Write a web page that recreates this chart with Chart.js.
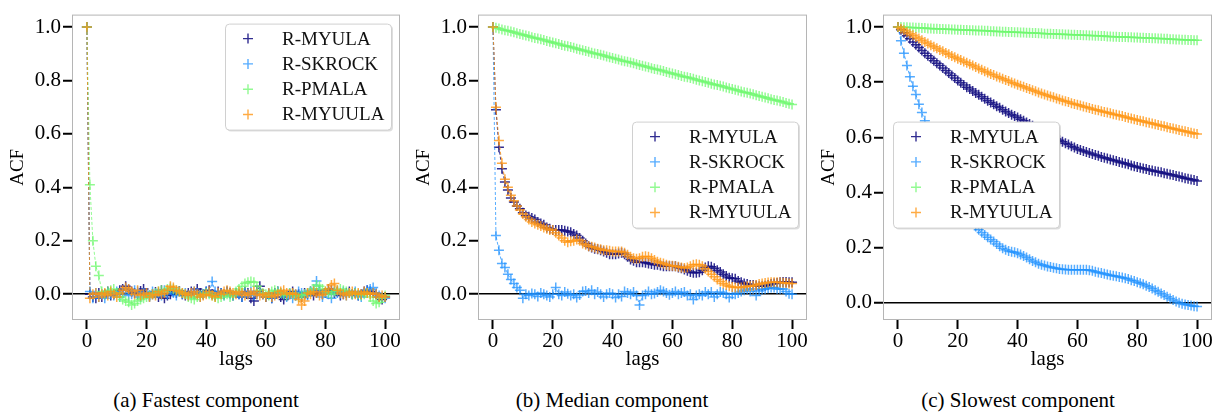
<!DOCTYPE html>
<html>
<head>
<meta charset="utf-8">
<title>ACF</title>
<script src="https://cdn.jsdelivr.net/npm/chart.js@4"></script>
<style>
  body { margin: 0; background: #fff; }
  #page { position: relative; width: 1226px; height: 417px; overflow: hidden; font-family: 'Liberation Serif', serif; color: #000; }
  .panel { position: absolute; top: 0; height: 370px; }
  .caption { position: absolute; top: 387px; font-size: 21px; line-height: 26px; transform: translateX(-50%); white-space: nowrap; }
</style>
</head>
<body>
<div id="page">
  <div class="panel" style="left:0px;width:410px"><canvas id="fastChart"></canvas></div>
  <div class="panel" style="left:406px;width:411px"><canvas id="medianChart"></canvas></div>
  <div class="panel" style="left:811px;width:411px"><canvas id="slowChart"></canvas></div>
  <div class="caption" style="left:206px">(a) Fastest component</div>
  <div class="caption" style="left:612px">(b) Median component</div>
  <div class="caption" style="left:1018px">(c) Slowest component</div>
</div>
<script>
// =====================
// Data
// =====================

const seriesNames = ['R-MYULA', 'R-SKROCK', 'R-PMALA', 'R-MYUULA'];
const seriesColors = ['rgba(20,16,130,0.88)', 'rgba(30,144,255,0.75)', 'rgba(110,248,110,0.75)', 'rgba(255,150,20,0.8)'];
const xTicks = [0, 20, 40, 60, 80, 100];
const yTicks = [0.0, 0.2, 0.4, 0.6, 0.8, 1.0];

// (a) fastest component
const fastMyula = [1.0, 0.0, -0.01, -0.015, 0.005, -0.01, 0.0, 0.01, -0.005, 0.0,
  0.005, 0.015, 0.02, 0.03, 0.018, 0.01, 0.005, 0.0, 0.012, 0.02,
  0.005, -0.005, 0.0, 0.008, -0.01, 0.015, -0.015, -0.005, 0.0, 0.01,
  0.005, 0.012, 0.0, -0.005, 0.005, 0.01, 0.0, 0.02, 0.005, 0.0,
  0.01, 0.015, 0.0, -0.005, 0.01, 0.005, 0.0, 0.01, 0.005, -0.005,
  0.005, 0.0, -0.01, 0.01, 0.005, -0.015, -0.025, 0.01, 0.03, 0.0,
  -0.01, 0.0, -0.015, 0.005, 0.01, -0.01, -0.02, -0.005, 0.0, 0.01,
  -0.005, 0.0, -0.01, 0.005, 0.0, 0.01, -0.005, 0.005, 0.015, 0.0,
  0.005, 0.02, 0.015, 0.005, 0.01, -0.005, 0.0, 0.005, 0.01, 0.0,
  0.005, -0.005, 0.0, 0.01, 0.015, 0.01, 0.005, 0.0, -0.01, -0.02,
  -0.01];
const fastSkrock = [1.0, 0.01, -0.015, 0.005, -0.01, 0.0, -0.015, 0.005, 0.0, -0.005,
  0.01, -0.01, 0.005, 0.02, -0.005, 0.0, 0.015, 0.01, -0.01, 0.005,
  0.0, -0.01, 0.01, 0.0, 0.005, -0.005, 0.015, 0.0, 0.02, 0.005,
  -0.005, 0.01, 0.0, 0.005, -0.005, 0.0, 0.01, 0.005, -0.01, 0.0,
  0.01, 0.005, 0.048, 0.01, 0.0, 0.005, -0.005, 0.01, 0.0, -0.005,
  0.005, 0.0, -0.01, 0.005, 0.0, 0.01, -0.005, 0.0, 0.005, 0.0,
  -0.01, 0.005, -0.015, 0.0, 0.01, 0.005, 0.0, -0.01, 0.005, -0.015,
  0.0, 0.01, 0.005, 0.0, -0.005, 0.01, 0.02, 0.05, 0.015, -0.01,
  0.005, 0.0, -0.015, 0.01, 0.005, 0.0, 0.01, -0.005, 0.005, 0.0,
  0.01, -0.005, -0.01, 0.005, 0.015, 0.02, 0.025, 0.005, -0.005, -0.01,
  -0.015];
const fastPmala = [1.0, 0.41, 0.20, 0.105, 0.07, 0.01, 0.0, 0.01, 0.015, 0.02,
  0.005, -0.01, -0.02, -0.025, -0.03, -0.04, -0.035, -0.025, -0.02, -0.015,
  -0.01, -0.005, 0.0, 0.005, 0.01, 0.015, 0.01, 0.02, 0.025, 0.02,
  0.015, 0.01, 0.005, 0.0, -0.01, -0.015, -0.02, -0.01, -0.005, 0.0,
  0.005, 0.0, -0.005, -0.01, -0.015, -0.01, -0.005, 0.0, -0.01, -0.005,
  0.01, 0.02, 0.03, 0.04, 0.045, 0.048, 0.045, 0.03, 0.015, 0.005,
  0.0, -0.005, 0.01, 0.015, 0.01, 0.005, 0.0, -0.005, 0.005, 0.0,
  -0.005, -0.01, -0.005, 0.0, 0.005, 0.01, 0.02, 0.035, 0.03, 0.02,
  0.01, 0.005, 0.0, 0.01, 0.015, 0.02, 0.015, 0.01, 0.005, 0.0,
  0.005, 0.0, -0.005, 0.0, 0.005, -0.01, -0.025, -0.035, -0.03, -0.015,
  -0.005];
const fastMyuula = [1.0, -0.015, 0.0, 0.005, -0.01, 0.0, 0.005, -0.005, 0.01, 0.0,
  -0.01, 0.005, 0.015, 0.025, 0.02, 0.01, 0.0, 0.015, -0.005, 0.0,
  0.005, -0.01, 0.0, -0.005, 0.01, 0.0, 0.005, 0.015, 0.03, 0.025,
  0.015, 0.01, 0.005, 0.0, -0.005, 0.005, 0.01, 0.0, -0.01, -0.005,
  0.0, 0.01, -0.005, -0.01, 0.005, 0.0, 0.01, 0.015, 0.01, 0.005,
  0.0, 0.01, 0.005, -0.005, 0.0, 0.005, 0.01, 0.0, -0.005, 0.0,
  -0.01, 0.005, -0.01, -0.005, 0.0, 0.01, 0.015, 0.005, 0.0, 0.005,
  0.0, -0.02, -0.04, -0.025, 0.005, 0.0, 0.01, 0.005, -0.005, 0.0,
  0.01, 0.02, 0.035, 0.04, 0.015, 0.005, 0.0, -0.005, 0.005, 0.01,
  0.0, 0.005, 0.0, 0.01, 0.005, 0.0, 0.005, 0.0, -0.01, -0.005,
  -0.01];

// (b) median component
const medianMyula = [1.0, 0.69, 0.55, 0.47, 0.42, 0.39, 0.36, 0.345, 0.33, 0.32,
  0.305, 0.295, 0.29, 0.285, 0.28, 0.27, 0.265, 0.26, 0.25, 0.245,
  0.24, 0.24, 0.24, 0.24, 0.238, 0.235, 0.232, 0.225, 0.22, 0.21,
  0.2, 0.19, 0.18, 0.175, 0.17, 0.168, 0.165, 0.16, 0.155, 0.15,
  0.15, 0.15, 0.152, 0.155, 0.15, 0.14, 0.13, 0.125, 0.12, 0.12,
  0.12, 0.118, 0.115, 0.113, 0.11, 0.11, 0.108, 0.105, 0.105, 0.105,
  0.105, 0.105, 0.1, 0.097, 0.093, 0.088, 0.083, 0.08, 0.08, 0.082,
  0.09, 0.1, 0.105, 0.103, 0.097, 0.09, 0.083, 0.075, 0.068, 0.062,
  0.06, 0.058, 0.05, 0.045, 0.04, 0.038, 0.035, 0.035, 0.033, 0.03,
  0.03, 0.032, 0.035, 0.038, 0.04, 0.042, 0.045, 0.046, 0.046, 0.045,
  0.045];
const medianSkrock = [1.0, 0.22, 0.165, 0.115, 0.10, 0.075, 0.055, 0.04, 0.025, 0.015,
  -0.015, 0.0, -0.005, 0.003, 0.0, -0.008, 0.005, 0.0, -0.005, -0.01,
  0.0, 0.025, 0.0, -0.005, 0.008, 0.002, -0.005, 0.0, -0.012, -0.003,
  0.01, 0.012, 0.005, 0.015, 0.0, 0.008, 0.0, -0.01, 0.0, 0.005,
  0.0, -0.012, 0.0, -0.008, 0.01, 0.005, 0.0, 0.008, -0.005, -0.04,
  -0.005, 0.0, 0.01, 0.0, 0.003, 0.008, 0.015, 0.01, 0.005, -0.002,
  0.005, 0.01, 0.0, 0.005, 0.008, -0.005, 0.0, -0.02, -0.005, 0.0,
  -0.005, 0.008, 0.0, 0.008, -0.01, 0.0, 0.008, 0.005, 0.0, -0.012,
  0.0, 0.0, 0.005, 0.01, 0.015, 0.02, 0.01, 0.02, -0.005, 0.012,
  0.018, 0.02, 0.022, 0.025, 0.025, 0.02, 0.02, 0.02, 0.01, 0.002,
  0.0];
const medianPmala = [1.0, 0.997, 0.994, 0.991, 0.988, 0.986, 0.983, 0.98, 0.977, 0.974,
  0.971, 0.968, 0.965, 0.962, 0.959, 0.957, 0.954, 0.951, 0.948, 0.945,
  0.942, 0.939, 0.936, 0.933, 0.93, 0.928, 0.925, 0.922, 0.919, 0.916,
  0.913, 0.91, 0.907, 0.904, 0.901, 0.899, 0.896, 0.893, 0.89, 0.887,
  0.884, 0.881, 0.878, 0.875, 0.872, 0.87, 0.867, 0.864, 0.861, 0.858,
  0.855, 0.852, 0.849, 0.846, 0.843, 0.841, 0.838, 0.835, 0.832, 0.829,
  0.826, 0.823, 0.82, 0.817, 0.814, 0.812, 0.809, 0.806, 0.803, 0.8,
  0.797, 0.794, 0.791, 0.788, 0.785, 0.783, 0.78, 0.777, 0.774, 0.771,
  0.768, 0.765, 0.762, 0.759, 0.756, 0.754, 0.751, 0.748, 0.745, 0.742,
  0.739, 0.736, 0.733, 0.73, 0.727, 0.725, 0.722, 0.719, 0.716, 0.713,
  0.71];
const medianMyuula = [1.0, 0.70, 0.575, 0.49, 0.43, 0.40, 0.37, 0.35, 0.33, 0.315,
  0.30, 0.29, 0.28, 0.27, 0.265, 0.26, 0.255, 0.25, 0.245, 0.24,
  0.24, 0.23, 0.22, 0.21, 0.2, 0.195, 0.198, 0.2, 0.205, 0.2,
  0.19, 0.185, 0.18, 0.178, 0.175, 0.17, 0.168, 0.165, 0.165, 0.163,
  0.16, 0.16, 0.16, 0.16, 0.155, 0.148, 0.14, 0.135, 0.133, 0.135,
  0.14, 0.142, 0.14, 0.135, 0.128, 0.122, 0.118, 0.115, 0.11, 0.108,
  0.107, 0.105, 0.103, 0.1, 0.098, 0.1, 0.105, 0.11, 0.112, 0.11,
  0.105, 0.095, 0.085, 0.075, 0.065, 0.055, 0.048, 0.04, 0.035, 0.03,
  0.027, 0.025, 0.025, 0.025, 0.028, 0.03, 0.03, 0.032, 0.035, 0.038,
  0.04, 0.042, 0.044, 0.045, 0.045, 0.045, 0.044, 0.043, 0.042, 0.04,
  0.04];

// (c) slowest component
const slowMyula = [1.0, 0.99, 0.979, 0.968, 0.957, 0.946, 0.936, 0.926, 0.915, 0.905,
  0.896, 0.887, 0.878, 0.869, 0.86, 0.851, 0.842, 0.833, 0.824, 0.815,
  0.806, 0.798, 0.79, 0.782, 0.775, 0.768, 0.761, 0.754, 0.747, 0.74,
  0.733, 0.726, 0.72, 0.713, 0.707, 0.70, 0.694, 0.688, 0.682, 0.677,
  0.672, 0.666, 0.66, 0.654, 0.648, 0.642, 0.636, 0.63, 0.624, 0.618,
  0.612, 0.606, 0.6, 0.594, 0.589, 0.584, 0.579, 0.574, 0.568, 0.563,
  0.558, 0.554, 0.55, 0.547, 0.543, 0.54, 0.536, 0.533, 0.529, 0.526,
  0.523, 0.52, 0.517, 0.514, 0.511, 0.508, 0.505, 0.502, 0.498, 0.495,
  0.492, 0.49, 0.487, 0.485, 0.482, 0.48, 0.477, 0.475, 0.473, 0.47,
  0.468, 0.465, 0.463, 0.46, 0.458, 0.455, 0.452, 0.45, 0.447, 0.445,
  0.442];
const slowSkrock = [1.0, 0.95, 0.905, 0.86, 0.82, 0.785, 0.755, 0.72, 0.69, 0.66,
  0.63, 0.60, 0.572, 0.545, 0.518, 0.493, 0.468, 0.445, 0.422, 0.40,
  0.38, 0.36, 0.34, 0.322, 0.305, 0.29, 0.277, 0.265, 0.255, 0.246,
  0.238, 0.23, 0.222, 0.213, 0.205, 0.198, 0.192, 0.188, 0.185, 0.183,
  0.18, 0.175, 0.17, 0.164, 0.158, 0.152, 0.147, 0.142, 0.138, 0.135,
  0.132, 0.13, 0.127, 0.125, 0.123, 0.122, 0.121, 0.12, 0.12, 0.12,
  0.12, 0.12, 0.12, 0.12, 0.118, 0.116, 0.113, 0.11, 0.108, 0.105,
  0.103, 0.1, 0.098, 0.096, 0.094, 0.092, 0.089, 0.086, 0.082, 0.079,
  0.075, 0.071, 0.067, 0.062, 0.057, 0.052, 0.046, 0.04, 0.034, 0.028,
  0.022, 0.016, 0.01, 0.005, 0.0, -0.003, -0.006, -0.008, -0.01, -0.012,
  -0.013];
const slowPmala = [1.0, 1.0, 0.999, 0.999, 0.998, 0.998, 0.997, 0.997, 0.996, 0.996,
  0.995, 0.995, 0.994, 0.994, 0.993, 0.993, 0.992, 0.992, 0.991, 0.991,
  0.99, 0.99, 0.989, 0.989, 0.988, 0.988, 0.987, 0.987, 0.987, 0.986,
  0.986, 0.985, 0.985, 0.984, 0.984, 0.983, 0.983, 0.982, 0.982, 0.981,
  0.981, 0.98, 0.98, 0.979, 0.979, 0.978, 0.978, 0.977, 0.977, 0.976,
  0.976, 0.976, 0.975, 0.975, 0.974, 0.974, 0.973, 0.973, 0.972, 0.972,
  0.971, 0.971, 0.97, 0.97, 0.969, 0.969, 0.968, 0.968, 0.967, 0.967,
  0.966, 0.966, 0.965, 0.965, 0.964, 0.964, 0.964, 0.963, 0.963, 0.962,
  0.962, 0.961, 0.961, 0.96, 0.96, 0.959, 0.959, 0.958, 0.958, 0.957,
  0.957, 0.956, 0.956, 0.955, 0.955, 0.954, 0.954, 0.953, 0.953, 0.952,
  0.952];
const slowMyuula = [1.0, 0.994, 0.988, 0.982, 0.976, 0.97, 0.964, 0.958, 0.952, 0.946,
  0.94, 0.934, 0.928, 0.923, 0.917, 0.912, 0.906, 0.901, 0.895, 0.89,
  0.885, 0.88, 0.875, 0.87, 0.865, 0.86, 0.855, 0.85, 0.845, 0.84,
  0.835, 0.83, 0.826, 0.821, 0.817, 0.812, 0.808, 0.804, 0.799, 0.795,
  0.791, 0.787, 0.783, 0.779, 0.775, 0.771, 0.767, 0.763, 0.759, 0.755,
  0.752, 0.748, 0.745, 0.741, 0.738, 0.734, 0.731, 0.728, 0.724, 0.721,
  0.718, 0.715, 0.712, 0.709, 0.706, 0.703, 0.70, 0.698, 0.695, 0.692,
  0.69, 0.687, 0.684, 0.682, 0.679, 0.677, 0.674, 0.671, 0.668, 0.666,
  0.663, 0.66, 0.658, 0.655, 0.653, 0.65, 0.647, 0.645, 0.642, 0.64,
  0.637, 0.634, 0.632, 0.629, 0.627, 0.624, 0.622, 0.619, 0.617, 0.614,
  0.612];

// =====================
// Plugins
// =====================

const fontFamily = "'Liberation Serif', 'Times New Roman', serif";

// grey box around the plot area
const framePlugin = {
  id: 'frame',
  afterDatasetsDraw(chart) {
    const a = chart.chartArea;
    const ctx = chart.ctx;
    ctx.save();
    ctx.strokeStyle = '#b5b5b5';
    ctx.lineWidth = 1;
    ctx.strokeRect(a.left + 0.5, a.top + 0.5, a.right - a.left - 1, a.bottom - a.top - 1);
    ctx.restore();
  }
};

// matplotlib-like legend drawn inside the axes
const boxLegendPlugin = {
  id: 'boxLegend',
  afterDraw(chart, args, opts) {
    const a = chart.chartArea;
    const ctx = chart.ctx;
    const w = 166, h = 106;
    const x = opts.side === 'left' ? a.left + opts.inset : a.right - opts.inset - w;
    const y = a.top + opts.top;
    ctx.save();
    ctx.fillStyle = 'rgba(0,0,0,0.13)';
    ctx.beginPath();
    ctx.roundRect(x + 2, y + 2, w, h, 4);
    ctx.fill();
    ctx.fillStyle = '#fff';
    ctx.strokeStyle = '#d0d0d0';
    ctx.lineWidth = 1;
    ctx.beginPath();
    ctx.roundRect(x + 0.5, y + 0.5, w, h, 4);
    ctx.fill();
    ctx.stroke();
    ctx.font = '19px ' + fontFamily;
    ctx.textBaseline = 'middle';
    chart.data.datasets.forEach((ds, i) => {
      const rowY = y + 15 + i * 25.3;
      const mx = x + 23;
      ctx.strokeStyle = ds.borderColor;
      ctx.lineWidth = 1.4;
      ctx.beginPath();
      ctx.moveTo(mx - 5, rowY); ctx.lineTo(mx + 5, rowY);
      ctx.moveTo(mx, rowY - 5); ctx.lineTo(mx, rowY + 5);
      ctx.stroke();
      ctx.fillStyle = '#111';
      ctx.fillText(ds.label, x + 57, rowY + 1);
    });
    ctx.restore();
  }
};

// =====================
// Chart builder
// =====================

const lags = Array.from({ length: 101 }, (_, i) => i);

function makeChart(canvasId, seriesList, yMin, yMax, legendPlace) {
  const datasets = seriesList.map((values, i) => ({
    label: seriesNames[i],
    data: values.map((v, k) => ({ x: lags[k], y: v })),
    borderColor: seriesColors[i],
    backgroundColor: seriesColors[i],
    borderWidth: 1,
    borderDash: [3, 2],
    pointStyle: 'cross',
    pointRadius: 5,
    pointBorderWidth: 1.5,
    pointHoverRadius: 5,
    tension: 0,
    order: seriesList.length - i
  }));

  const tickFont = { family: fontFamily, size: 21 };
  const xTitleFont = { family: fontFamily, size: 21, lineHeight: 1 };
  const yTitleFont = { family: fontFamily, size: 19, lineHeight: 1 };

  return new Chart(document.getElementById(canvasId), {
    type: 'line',
    data: { datasets },
    plugins: [framePlugin, boxLegendPlugin],
    options: {
      responsive: true,
      maintainAspectRatio: false,
      animation: false,
      events: [],
      layout: { padding: { left: 0, right: 10, top: 0, bottom: 0 } },
      plugins: {
        legend: { display: false },
        tooltip: { enabled: false },
        boxLegend: legendPlace
      },
      scales: {
        x: {
          type: 'linear',
          min: -5,
          max: 105,
          afterBuildTicks: s => { s.ticks = xTicks.map(v => ({ value: v })); },
          afterFit: s => { s.height = 50; },
          border: { display: false },
          grid: { drawOnChartArea: false, tickLength: 9, tickWidth: 2, tickColor: '#000' },
          ticks: { color: '#000', font: tickFont, padding: 0, maxRotation: 0, callback: v => String(v) },
          title: { display: true, text: 'lags', color: '#000', font: xTitleFont, padding: 0 }
        },
        y: {
          type: 'linear',
          min: yMin,
          max: yMax,
          afterBuildTicks: s => { s.ticks = yTicks.map(v => ({ value: v })); },
          afterFit: s => { s.width = 72; },
          border: { display: false },
          grid: {
            color: c => (c.tick && c.tick.value === 0 ? '#000' : 'rgba(0,0,0,0)'),
            lineWidth: 1.5,
            tickLength: 9,
            tickWidth: 2,
            tickColor: '#000'
          },
          ticks: { color: '#000', font: tickFont, padding: 2, callback: v => v.toFixed(1) },
          title: { display: true, text: 'ACF', color: '#000', font: yTitleFont, padding: { top: 9, bottom: 0 } }
        }
      }
    }
  });
}

// =====================
// Initialize
// =====================

makeChart('fastChart', [fastMyula, fastSkrock, fastPmala, fastMyuula], -0.0964, 1.0464,
  { side: 'right', inset: 9, top: 9 });
makeChart('medianChart', [medianMyula, medianSkrock, medianPmala, medianMyuula], -0.0964, 1.0464,
  { side: 'right', inset: 9, top: 107 });
makeChart('slowChart', [slowMyula, slowSkrock, slowPmala, slowMyuula], -0.0623, 1.045,
  { side: 'left', inset: 10, top: 107 });
</script>
</body>
</html>
